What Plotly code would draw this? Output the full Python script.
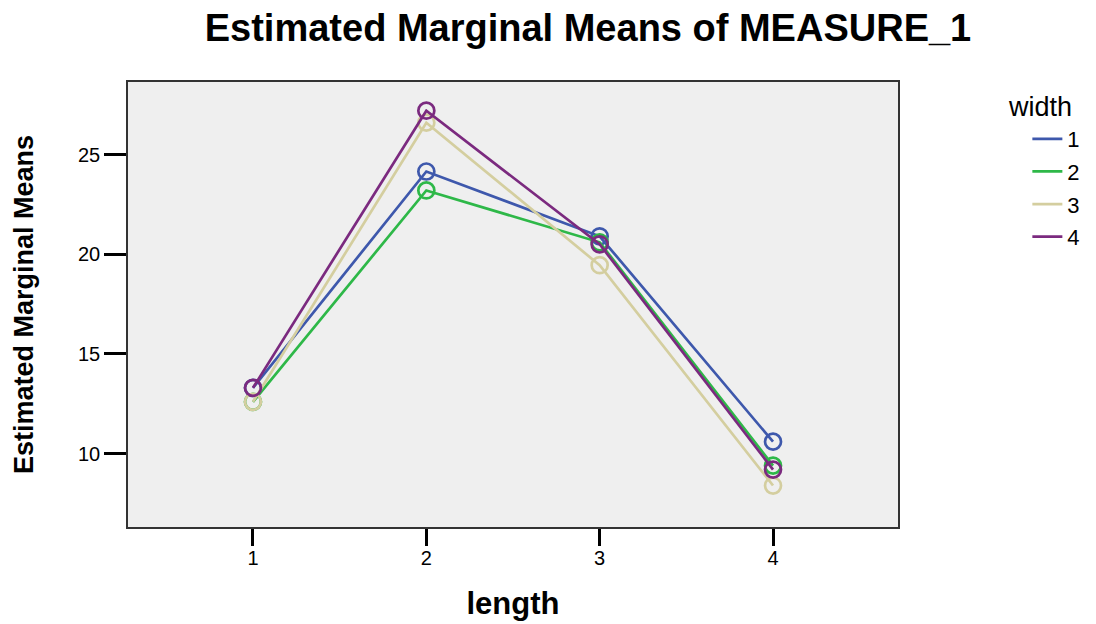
import plotly.graph_objects as go

length = [1, 2, 3, 4]
width_labels = ["1", "2", "3", "4"]
w1 = [13.3, 24.15, 20.9, 10.6]
w2 = [12.6, 23.2, 20.6, 9.4]
w3 = [12.6, 26.6, 19.45, 8.4]
w4 = [13.3, 27.2, 20.5, 9.2]
series = [w1, w2, w3, w4]
colors = ["#3E58AC", "#2EB848", "#D4CE9F", "#7B2A7F"]

FONT = "Liberation Sans, Arial, sans-serif"
# page body has an 8px margin; figure sized so it fills the 1096x624 window
W, H = 1088, 616

fig = go.Figure()
for lab, vals, col in zip(width_labels, series, colors):
    fig.add_trace(go.Scatter(
        x=length, y=vals, name=lab, legendgroup=lab, showlegend=False,
        mode="lines+markers",
        line=dict(color=col, width=2.7),
        marker=dict(symbol="circle-open", size=16, color=col, line=dict(width=2.7, color=col)),
    ))
# legend entries drawn as plain lines (as in the reference)
for lab, col in zip(width_labels, colors):
    fig.add_trace(go.Scatter(
        x=[None], y=[None], name=lab, legendgroup=lab, showlegend=True,
        mode="lines", line=dict(color=col, width=2.7), hoverinfo="skip",
    ))

fig.update_layout(
    width=W, height=H,
    paper_bgcolor="white", plot_bgcolor="#EFEFEF",
    margin=dict(l=120, r=198, t=74, b=97, autoexpand=False),
    font=dict(family=FONT, color="black"),
    title=dict(
        text="<b>Estimated Marginal Means of MEASURE_1</b>",
        font=dict(size=38, family=FONT, color="black"),
        x=580 / W, xanchor="center", xref="container",
        y=1 - 20 / H, yanchor="middle", yref="container",
    ),
    showlegend=True,
    legend=dict(
        x=1.168, y=0.919, xanchor="left", yanchor="top",
        font=dict(size=22, family=FONT, color="black"),
        bgcolor="rgba(0,0,0,0)", tracegroupgap=1,
    ),
    annotations=[dict(
        text="width", xref="paper", yref="paper",
        x=1.184, y=0.944, xanchor="center", yanchor="middle",
        showarrow=False, font=dict(size=27, family=FONT, color="black"),
    )],
)

fig.update_xaxes(
    range=[0.279, 4.721], tickvals=length, ticktext=[str(v) for v in length],
    showgrid=False, zeroline=False,
    showline=True, linecolor="#333333", linewidth=1.5, mirror=True,
    ticks="outside", ticklen=17, tickwidth=2.5, tickcolor="black",
    tickfont=dict(size=20, family=FONT, color="black"), ticklabelstandoff=-5,
    title=dict(text="<b>length</b>", font=dict(size=31, family=FONT, color="black"), standoff=25),
)
fig.update_yaxes(
    range=[6.32, 28.64], tickvals=[10, 15, 20, 25],
    showgrid=False, zeroline=False,
    showline=True, linecolor="#333333", linewidth=1.5, mirror=True,
    ticks="outside", ticklen=22, tickwidth=2.5, tickcolor="black",
    tickfont=dict(size=20, family=FONT, color="black"),
    title=dict(text="<b>Estimated Marginal Means</b>", font=dict(size=27, family=FONT, color="black"), standoff=37),
)

fig.write_html("out.html")
